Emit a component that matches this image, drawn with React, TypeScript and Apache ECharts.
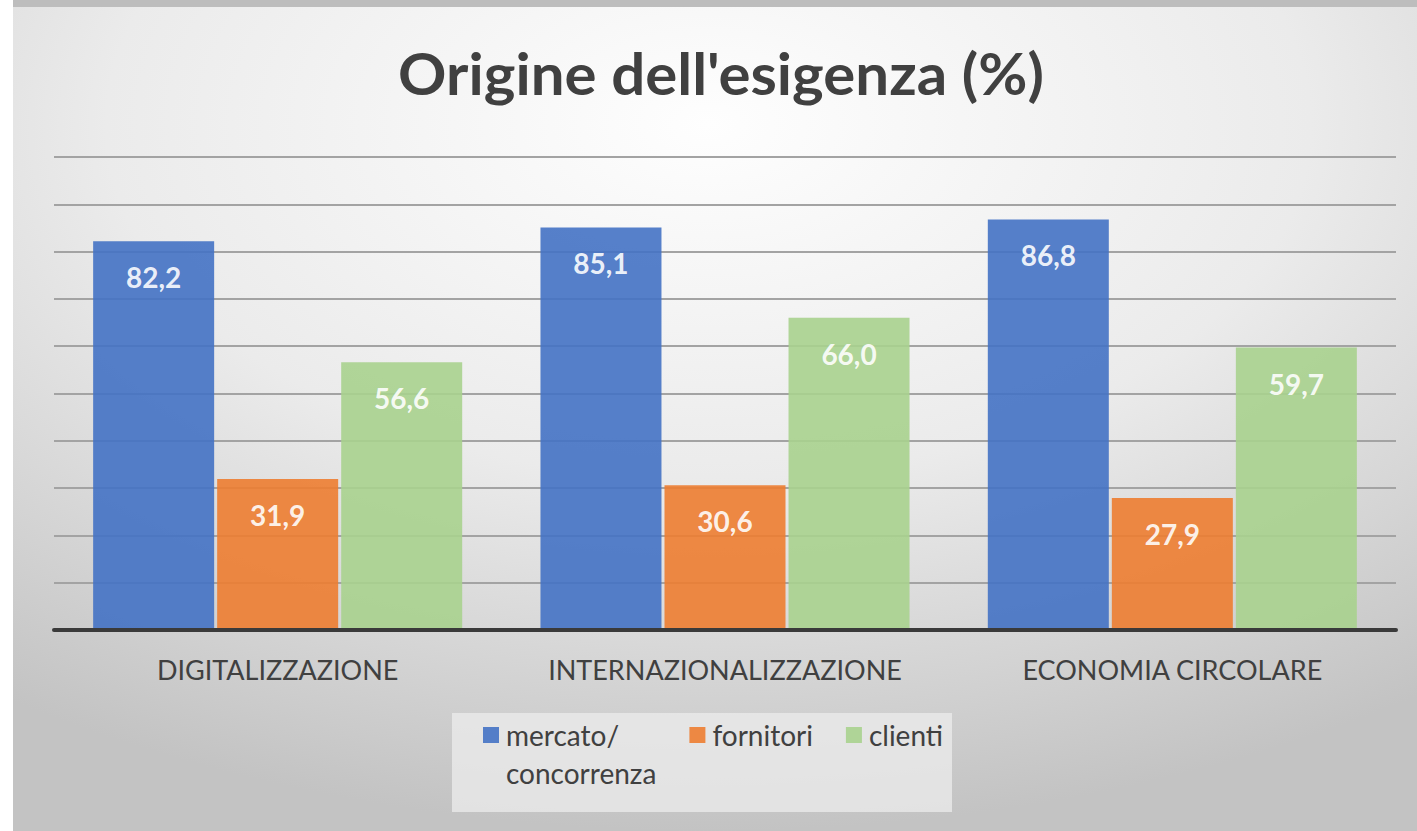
import React, { useEffect, useRef } from "react";
import * as echarts from "echarts";

const categories = ["DIGITALIZZAZIONE", "INTERNAZIONALIZZAZIONE", "ECONOMIA CIRCOLARE"];
const seriesNames = ["mercato/\nconcorrenza", "fornitori", "clienti"];
const mercato = [82.2, 85.1, 86.8];
const fornitori = [31.9, 30.6, 27.9];
const clienti = [56.6, 66.0, 59.7];
const titleText = "Origine dell'esigenza (%)";

const FONT = "Lato, 'Open Sans', sans-serif";
const colors = ["#4472C4", "#ED7D31", "#A9D18E"];

export default function App() {
  const ref = useRef<HTMLDivElement>(null);
  useEffect(() => {
    if (!ref.current) return;
    const chart = echarts.init(ref.current, null, { renderer: "svg" });
    const fmt = (p: any) => Number(p.value).toFixed(1).replace(".", ",");
    const mk = (name: string, data: number[], color: string) => ({
      name,
      type: "bar",
      data,
      barWidth: 121,
      barGap: "2.5%",
      itemStyle: { color, opacity: 0.9 },
      label: {
        show: true,
        position: "insideTop",
        distance: 22,
        formatter: fmt,
        color: "#ffffff",
        fontFamily: FONT,
        fontWeight: "bold",
        fontSize: 28,
      },
    });
    chart.setOption({
      animation: false,
      color: colors,
      graphic: [
        {
          type: "rect",
          z: -100,
          silent: true,
          shape: { x: 0, y: 0, width: 1417, height: 831 },
          style: {
            fill: {
              type: "radial",
              x: 0.5,
              y: 0.15,
              r: 0.85,
              colorStops: [
                { offset: 0, color: "#fefefe" },
                { offset: 0.5, color: "#ebebeb" },
                { offset: 1, color: "#c3c3c3" },
              ],
            },
          },
        },
        {
          type: "rect",
          z: -99,
          silent: true,
          shape: { x: 0, y: 0, width: 13, height: 831 },
          style: { fill: "#ffffff" },
        },
        {
          type: "rect",
          z: -99,
          silent: true,
          shape: { x: 13, y: 0, width: 1404, height: 7 },
          style: { fill: "#bdbdbd" },
        },
        {
          type: "rect",
          z: -98,
          silent: true,
          shape: { x: 452, y: 713, width: 500, height: 99 },
          style: { fill: "rgba(236,236,236,0.75)" },
        },
        {
          type: "text",
          x: 721,
          y: 73,
          scaleX: 1.035,
          style: {
            text: titleText,
            fontFamily: FONT,
            fontWeight: "bold",
            fontSize: 58,
            fill: "#404040",
            align: "center",
            verticalAlign: "middle",
            textAlign: "center",
            textVerticalAlign: "middle",
          },
        },
      ],
      legend: {
        left: 483,
        top: 678,
        padding: 0,
        itemWidth: 16,
        itemHeight: 16,
        itemGap: 33,
        icon: "rect",
        formatter: (name: string) => (name.indexOf("\n") >= 0 ? " \n" + name : name),
        textStyle: {
          fontFamily: FONT,
          fontSize: 28,
          color: "#404040",
          lineHeight: 38,
          padding: [0, 0, 0, 2],
        },
        data: seriesNames,
      },
      grid: { left: 54, right: 21, top: 157, bottom: 201, containLabel: false },
      xAxis: {
        type: "category",
        data: categories,
        axisLine: { show: true, lineStyle: { color: "#3a3a3a", width: 4 } },
        axisTick: { show: false },
        axisLabel: {
          fontFamily: FONT,
          fontSize: 27,
          color: "#404040",
          margin: 26,
          interval: 0,
        },
        z: 10,
      },
      yAxis: {
        type: "value",
        min: 0,
        max: 100,
        interval: 10,
        axisLabel: { show: false },
        axisLine: { show: false },
        axisTick: { show: false },
        splitLine: { show: true, lineStyle: { color: "#a3a3a3", width: 2 } },
      },
      series: [
        mk(seriesNames[0], mercato, colors[0]),
        mk(seriesNames[1], fornitori, colors[1]),
        mk(seriesNames[2], clienti, colors[2]),
      ],
    });
    return () => chart.dispose();
  }, []);
  return (
    <div
      ref={ref}
      style={{ position: "absolute", left: 0, top: 0, width: 1417, height: 831 }}
    />
  );
}
